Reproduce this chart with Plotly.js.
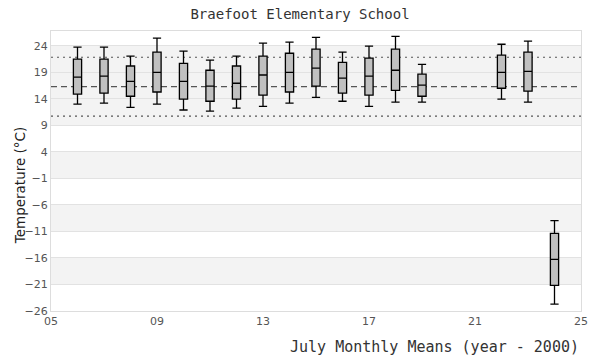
<!DOCTYPE html>
<html>
<head>
<meta charset="utf-8">
<script src="https://cdn.plot.ly/plotly-3.0.1.min.js"></script>
<style>html,body{margin:0;padding:0;background:#fff;}#chart{width:600px;height:360px;}</style>
</head>
<body>
<div id="chart"></div>
<script>
// Years (year - 2000)
const years = [6, 7, 8, 9, 10, 11, 12, 13, 14, 15, 16, 17, 18, 19, 22, 23, 24];
const whiskerLow = [13.0, 13.2, 12.4, 13.0, 11.9, 11.7, 12.25, 12.6, 13.2, 14.3, 13.55, 12.6, 13.4, 13.4, 13.95, 13.4, -24.7];
const q1 =         [14.9, 15.1, 14.5, 15.3, 13.95, 13.55, 13.95, 14.7, 15.3, 16.4, 15.1, 14.7, 15.6, 14.5, 16.0, 15.45, -21.15];
const medians =    [18.1, 18.3, 17.3, 19.0, 17.3, 16.4, 16.95, 18.5, 19.0, 19.8, 17.9, 18.3, 19.4, 16.6, 19.0, 19.2, -16.25];
const q3 =         [21.5, 21.5, 20.2, 22.8, 20.7, 19.4, 20.2, 22.05, 22.6, 23.4, 20.9, 21.7, 23.4, 18.65, 22.25, 22.8, -11.35];
const whiskerHigh =[23.75, 23.75, 22.05, 25.45, 23.0, 21.3, 22.05, 24.5, 24.7, 25.6, 22.8, 23.95, 25.8, 20.5, 24.3, 24.9, -8.96];

const meanLine = 16.3;
const sdLines = [21.85, 10.75];
const shadedBands = [[9, 24], [-1, 4], [-11, -6], [-21, -16]];

const xTickVals = [5, 9, 13, 17, 21, 25];
const xTickText = ["05", "09", "13", "17", "21", "25"];
const yTickVals = [24, 19, 14, 9, 4, -1, -6, -11, -16, -21, -26];

const trace = {
  type: 'box',
  x: years,
  q1: q1,
  median: medians,
  q3: q3,
  lowerfence: whiskerLow,
  upperfence: whiskerHigh,
  width: 0.31,
  whiskerwidth: 1,
  fillcolor: '#c0c0c0',
  line: {color: '#000000', width: 1.3},
  boxpoints: false,
  hoverinfo: 'skip',
  showlegend: false
};

const shapes = [];
shadedBands.forEach(b => shapes.push({
  type: 'rect', xref: 'paper', yref: 'y', x0: 0, x1: 1, y0: b[0], y1: b[1],
  fillcolor: '#f3f3f3', line: {width: 0}, layer: 'below'
}));
shapes.push({type: 'line', xref: 'paper', yref: 'y', x0: 0, x1: 1, y0: meanLine, y1: meanLine,
  line: {color: '#555555', width: 1.2, dash: '6px,4px'}, layer: 'below'});
sdLines.forEach(v => shapes.push({type: 'line', xref: 'paper', yref: 'y', x0: 0, x1: 1, y0: v, y1: v,
  line: {color: '#555555', width: 1.2, dash: '2px,4px'}, layer: 'below'}));

const layout = {
  width: 600, height: 360,
  margin: {l: 51, r: 19, t: 31, b: 49},
  paper_bgcolor: '#ffffff', plot_bgcolor: '#ffffff',
  title: {text: 'Braefoot Elementary School', font: {family: 'DejaVu Sans Mono', size: 14, color: '#333333'},
    x: 0.5, xanchor: 'center', y: 0.962, yanchor: 'middle'},
  xaxis: {
    range: [5, 25], tickvals: xTickVals, ticktext: xTickText,
    showgrid: false, zeroline: false, showline: true, mirror: true, linecolor: '#dddddd', linewidth: 1,
    ticks: '', tickfont: {family: 'DejaVu Sans', size: 11, color: '#555555'}
  },
  yaxis: {
    range: [-26, 26.8], tickvals: yTickVals,
    showgrid: true, gridcolor: '#e2e2e2', gridwidth: 1, zeroline: false,
    showline: true, mirror: true, linecolor: '#dddddd', linewidth: 1,
    ticks: '', tickfont: {family: 'DejaVu Sans', size: 11, color: '#555555'}
  },
  shapes: shapes,
  annotations: [
    {text: 'July Monthly Means (year - 2000)', xref: 'paper', yref: 'paper', x: 1.0, y: -0.128,
      xanchor: 'right', yanchor: 'middle', showarrow: false,
      font: {family: 'DejaVu Sans Mono', size: 15, color: '#333333'}},
    {text: 'Temperature (°C)', xref: 'paper', yref: 'paper', x: -0.058, y: 0.45,
      xanchor: 'center', yanchor: 'middle', textangle: -90, showarrow: false,
      font: {family: 'DejaVu Sans', size: 13.5, color: '#222222'}}
  ]
};

Plotly.newPlot('chart', [trace], layout, {displayModeBar: false, staticPlot: true});
</script>
</body>
</html>
